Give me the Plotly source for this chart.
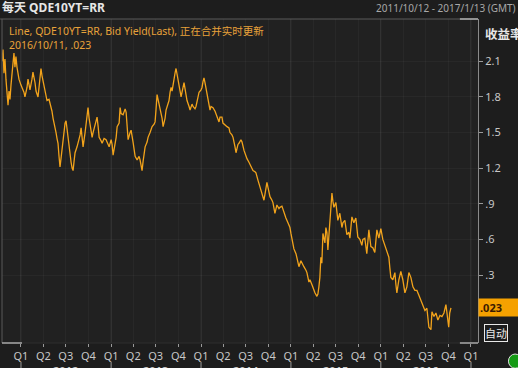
import pandas as pd
import plotly.graph_objects as go

# ---- data ----
# decimal-year timestamps of the traced points
t_years = [
    2011.789, 2011.800, 2011.811, 2011.822, 2011.833, 2011.844, 2011.856, 2011.867, 2011.878, 2011.889,
    2011.900, 2011.911, 2011.922, 2011.933, 2011.944, 2011.956, 2011.967, 2011.978,
    2012.000, 2012.011, 2012.033, 2012.044, 2012.067, 2012.078, 2012.100, 2012.122, 2012.133, 2012.156,
    2012.167, 2012.189, 2012.211, 2012.222, 2012.233, 2012.256, 2012.278, 2012.289, 2012.311, 2012.322,
    2012.344, 2012.356, 2012.378, 2012.389, 2012.400, 2012.411, 2012.422, 2012.433, 2012.444, 2012.456,
    2012.467, 2012.478, 2012.489, 2012.500, 2012.511, 2012.522, 2012.533, 2012.544, 2012.556, 2012.567,
    2012.578, 2012.589, 2012.600, 2012.622, 2012.633, 2012.656, 2012.667, 2012.678, 2012.689, 2012.711,
    2012.722, 2012.733, 2012.744, 2012.756, 2012.767, 2012.789, 2012.800, 2012.822, 2012.844, 2012.856,
    2012.867, 2012.889, 2012.900, 2012.922, 2012.944, 2012.967, 2012.978,
    2013.000, 2013.011, 2013.022, 2013.033, 2013.056, 2013.067, 2013.089, 2013.100, 2013.111, 2013.133,
    2013.156, 2013.167, 2013.178, 2013.189, 2013.211, 2013.222, 2013.244, 2013.256, 2013.267, 2013.289,
    2013.311, 2013.322, 2013.333, 2013.344, 2013.356, 2013.378, 2013.400, 2013.411, 2013.433, 2013.456,
    2013.478, 2013.489, 2013.500, 2013.511, 2013.522, 2013.544, 2013.567, 2013.578, 2013.600, 2013.611,
    2013.633, 2013.644, 2013.656, 2013.667, 2013.678, 2013.700, 2013.711, 2013.722, 2013.733, 2013.744,
    2013.767, 2013.778, 2013.800, 2013.811, 2013.833, 2013.844, 2013.867, 2013.878, 2013.900, 2013.911,
    2013.933, 2013.944, 2013.967, 2013.978,
    2014.000, 2014.011, 2014.022, 2014.033, 2014.044, 2014.067, 2014.078, 2014.100, 2014.111, 2014.133,
    2014.156, 2014.167, 2014.189, 2014.200, 2014.211, 2014.233, 2014.244, 2014.267, 2014.289, 2014.311,
    2014.322, 2014.344, 2014.356, 2014.378, 2014.389, 2014.411, 2014.422, 2014.444, 2014.456, 2014.478,
    2014.500, 2014.511, 2014.533, 2014.544, 2014.567, 2014.578, 2014.600, 2014.611, 2014.633, 2014.644,
    2014.667, 2014.678, 2014.700, 2014.711, 2014.733, 2014.744, 2014.767, 2014.789, 2014.800, 2014.822,
    2014.833, 2014.844, 2014.867, 2014.878, 2014.900, 2014.911, 2014.933, 2014.944, 2014.967, 2014.989,
    2015.000, 2015.022, 2015.033, 2015.056, 2015.078, 2015.089, 2015.111, 2015.122, 2015.144, 2015.167,
    2015.178, 2015.200, 2015.211, 2015.233, 2015.256, 2015.267, 2015.289, 2015.300, 2015.311, 2015.322,
    2015.333, 2015.344, 2015.356, 2015.367, 2015.378, 2015.389, 2015.400, 2015.411, 2015.422, 2015.433,
    2015.444, 2015.456, 2015.467, 2015.478, 2015.500, 2015.511, 2015.522, 2015.544, 2015.567, 2015.578,
    2015.600, 2015.611, 2015.622, 2015.644, 2015.656, 2015.667, 2015.678, 2015.700, 2015.722, 2015.733,
    2015.744, 2015.767, 2015.789, 2015.800, 2015.822, 2015.844, 2015.856, 2015.867, 2015.889, 2015.911,
    2015.933, 2015.944, 2015.956, 2015.978,
    2016.000, 2016.022, 2016.044, 2016.067, 2016.089, 2016.100, 2016.111, 2016.133, 2016.156, 2016.167,
    2016.178, 2016.200, 2016.222, 2016.244, 2016.267, 2016.289, 2016.311, 2016.333, 2016.356, 2016.378,
    2016.400, 2016.422, 2016.444, 2016.467, 2016.489, 2016.511, 2016.533, 2016.556, 2016.567, 2016.589,
    2016.611, 2016.633, 2016.656, 2016.678, 2016.700, 2016.722, 2016.744, 2016.753, 2016.764, 2016.778,
]
yields = [
    2.10, 2.20, 2.00, 2.12, 1.95, 1.80, 1.73, 1.85, 1.78, 1.90,
    1.98, 2.12, 2.17, 2.05, 2.14, 2.05, 1.98, 1.95,
    1.90, 1.88, 1.84, 1.80, 1.88, 1.95, 1.86, 1.95, 2.01, 1.92,
    1.85, 1.80, 1.95, 2.04, 1.98, 1.88, 1.82, 1.77, 1.78, 1.75,
    1.68, 1.62, 1.55, 1.50, 1.45, 1.41, 1.30, 1.21, 1.28, 1.35,
    1.45, 1.52, 1.58, 1.60, 1.52, 1.46, 1.40, 1.33, 1.25, 1.20,
    1.18, 1.26, 1.33, 1.38, 1.41, 1.48, 1.54, 1.45, 1.38, 1.50,
    1.58, 1.65, 1.71, 1.62, 1.55, 1.46, 1.50, 1.58, 1.63, 1.55,
    1.46, 1.43, 1.41, 1.45, 1.44, 1.40, 1.38,
    1.44, 1.40, 1.31, 1.35, 1.46, 1.55, 1.58, 1.71, 1.66, 1.65,
    1.70, 1.67, 1.55, 1.44, 1.50, 1.52, 1.42, 1.35, 1.30, 1.27,
    1.30, 1.27, 1.22, 1.18, 1.26, 1.38, 1.42, 1.46, 1.50, 1.55,
    1.57, 1.59, 1.70, 1.82, 1.78, 1.71, 1.62, 1.55, 1.62, 1.69,
    1.74, 1.77, 1.84, 1.88, 1.85, 1.97, 2.00, 2.04, 2.00, 1.95,
    1.85, 1.80, 1.88, 1.92, 1.82, 1.77, 1.72, 1.69, 1.74, 1.72,
    1.70, 1.72, 1.80, 1.84,
    1.86, 1.88, 1.93, 1.96, 1.92, 1.83, 1.77, 1.69, 1.72, 1.71,
    1.68, 1.66, 1.62, 1.59, 1.63, 1.63, 1.58, 1.56, 1.55, 1.54,
    1.50, 1.48, 1.46, 1.38, 1.33, 1.40, 1.41, 1.44, 1.42, 1.35,
    1.30, 1.28, 1.25, 1.23, 1.20, 1.18, 1.17, 1.16, 1.10, 1.07,
    1.00, 0.97, 0.93, 0.98, 1.08, 1.04, 0.96, 0.93, 0.91, 0.82,
    0.86, 0.89, 0.86, 0.87, 0.88, 0.85, 0.80, 0.78, 0.74, 0.70,
    0.65, 0.54, 0.52, 0.48, 0.42, 0.37, 0.42, 0.40, 0.37, 0.34,
    0.32, 0.24, 0.26, 0.22, 0.17, 0.15, 0.12, 0.14, 0.20, 0.28,
    0.45, 0.40, 0.65, 0.61, 0.57, 0.70, 0.66, 0.51, 0.65, 0.79,
    0.90, 0.99, 0.92, 0.87, 0.91, 0.85, 0.76, 0.82, 0.70, 0.74,
    0.76, 0.70, 0.64, 0.66, 0.61, 0.70, 0.79, 0.74, 0.78, 0.70,
    0.62, 0.60, 0.55, 0.60, 0.61, 0.48, 0.58, 0.68, 0.54, 0.53,
    0.49, 0.58, 0.68, 0.61,
    0.69, 0.60, 0.55, 0.51, 0.45, 0.36, 0.28, 0.26, 0.32, 0.22,
    0.15, 0.26, 0.33, 0.26, 0.15, 0.20, 0.32, 0.28, 0.20, 0.17,
    0.17, 0.13, 0.09, 0.05, 0.00, 0.02, -0.14, -0.16, -0.01, -0.05,
    -0.02, -0.08, -0.04, -0.05, -0.02, 0.05, -0.08, -0.14, -0.02, 0.023,
]
y_tick_vals = [0.3, 0.6, 0.9, 1.2, 1.5, 1.8, 2.1]
y_tick_text = [".3", ".6", ".9", "1.2", "1.5", "1.8", "2.1"]
quarter_labels = ["Q1", "Q2", "Q3", "Q4"]
years = [2012, 2013, 2014, 2015, 2016, 2017]
last_label = ".023"
last_value = 0.023


def to_ts(t):
    y = int(t)
    start = pd.Timestamp(year=y, month=1, day=1)
    end = pd.Timestamp(year=y + 1, month=1, day=1)
    return start + (end - start) * (t - y)


dates = [to_ts(t) for t in t_years]

q_vals, q_text = [], []
for y in years:
    for qi, m in enumerate([1, 4, 7, 10]):
        if y == 2017 and m > 1:
            break
        q_vals.append(pd.Timestamp(year=y, month=m, day=1))
        q_text.append(quarter_labels[qi])

ORANGE = "#f2a31b"
LATIN = "Noto Sans, Noto Sans CJK SC, sans-serif"

fig = go.Figure()
fig.add_trace(go.Scatter(x=dates, y=yields, mode="lines",
                         line=dict(color=ORANGE, width=1.3), hoverinfo="skip"))

fig.update_layout(
    width=518, height=368,
    margin=dict(l=2, r=40, t=19, b=25),
    paper_bgcolor="#1d1d1d", plot_bgcolor="#212121",
    showlegend=False,
    font=dict(family=LATIN, color="#c8c8c8", size=11),
    xaxis=dict(
        range=[to_ts(2011.789), to_ts(2017.078)],
        tickmode="array", tickvals=q_vals, ticktext=q_text,
        ticks="outside", ticklen=3, tickcolor="#9a9a9a",
        tickfont=dict(size=11, color="#c8c8c8"),
        showgrid=True, gridcolor="rgba(255,255,255,0.035)",
        zeroline=False, showline=False,
    ),
    yaxis=dict(
        side="right", range=[-0.273, 2.457],
        tickmode="array", tickvals=y_tick_vals, ticktext=y_tick_text,
        ticks="outside", ticklen=4, tickcolor="#9a9a9a",
        tickfont=dict(size=11, color="#c8c8c8"),
        showgrid=True, gridcolor="rgba(255,255,255,0.035)",
        zeroline=False, showline=True, linecolor="#8a8a8a", linewidth=1,
    ),
)

shapes = []
# brighter year grid lines and long year ticks
for y in years:
    x0 = pd.Timestamp(year=y, month=1, day=1)
    shapes.append(dict(type="line", xref="x", yref="paper", x0=x0, x1=x0, y0=0, y1=1,
                       line=dict(color="rgba(255,255,255,0.07)", width=1)))
    shapes.append(dict(type="line", xref="x", yref="paper", x0=x0, x1=x0, y0=-0.058, y1=-0.08,
                       line=dict(color="#9a9a9a", width=1)))
# frame: header separator, left border, bottom line
shapes += [
    dict(type="line", xref="paper", yref="paper", x0=-0.004, x1=1.0, y0=1, y1=1,
         line=dict(color="#5a5a5a", width=1)),
    dict(type="line", xref="paper", yref="paper", x0=0, x1=0, y0=0, y1=1,
         line=dict(color="#5a5a5a", width=1)),
    dict(type="line", xref="paper", yref="paper", x0=0, x1=1, y0=0, y1=0,
         line=dict(color="#2e2e2e", width=1)),
    # white corner brackets
    dict(type="line", xref="paper", yref="paper", x0=0, x1=0.042, y0=0, y1=0,
         line=dict(color="#e8e8e8", width=1)),
    dict(type="line", xref="paper", yref="paper", x0=0.962, x1=1.0, y0=0, y1=0,
         line=dict(color="#e8e8e8", width=1)),
    dict(type="line", xref="paper", yref="paper", x0=0.962, x1=1.0, y0=1, y1=1,
         line=dict(color="#e8e8e8", width=1)),
    # green status dot
    dict(type="circle", xref="paper", yref="paper",
         x0=1.064, x1=1.092, y0=-0.078, y1=-0.034,
         fillcolor="#159a15", line=dict(color="#e0e0e0", width=1)),
]
fig.update_layout(shapes=shapes)

ann = []
# header
ann.append(dict(text="<b>每天 QDE10YT=RR</b>", xref="paper", yref="paper", x=-0.004, y=1.0,
                xanchor="left", yanchor="bottom", yshift=1, showarrow=False,
                font=dict(size=12, color="#e6e6e6", family=LATIN)))
ann.append(dict(text="2011/10/12 - 2017/1/13 (GMT)", xref="paper", yref="paper", x=1.084, y=1.0,
                xanchor="right", yanchor="bottom", yshift=2, showarrow=False,
                font=dict(size=10, color="#a8a8a8", family=LATIN)))
# legend text
ann.append(dict(text="Line, QDE10YT=RR, Bid Yield(Last), 正在合并实时更新<br>2016/10/11, .023",
                xref="paper", yref="paper", x=0.01, y=0.99, xanchor="left", yanchor="top",
                align="left", showarrow=False,
                font=dict(size=10.5, color="#e8a23a", family=LATIN)))
# axis title
ann.append(dict(text="<b>收益率</b>", xref="paper", yref="paper", x=1.01, y=0.99,
                xanchor="left", yanchor="top", showarrow=False,
                font=dict(size=12.5, color="#e6e6e6", family="Noto Sans CJK SC")))
# last value tag
ann.append(dict(text="<b>" + last_label + "</b>", xref="paper", yref="y", x=1.0, y=last_value,
                xanchor="left", yanchor="middle", showarrow=False, align="left",
                bgcolor="#f5a100", width=38, borderpad=1,
                font=dict(size=11, color="#3a1a00", family=LATIN)))
# auto button
ann.append(dict(text="自动", xref="paper", yref="paper", x=1.013, y=0.002,
                xanchor="left", yanchor="bottom", showarrow=False,
                bordercolor="#e8e8e8", borderwidth=1, borderpad=0,
                font=dict(size=11, color="#e8e8e8", family="Noto Sans CJK SC")))
# year labels
for y in years[:-1]:
    ann.append(dict(text="<b>%d</b>" % y, xref="x", yref="paper",
                    x=pd.Timestamp(year=y, month=7, day=1), y=-0.056,
                    xanchor="center", yanchor="top", showarrow=False,
                    font=dict(size=11, color="#c8c8c8", family=LATIN)))
fig.update_layout(annotations=ann)

fig.write_html("out.html")
